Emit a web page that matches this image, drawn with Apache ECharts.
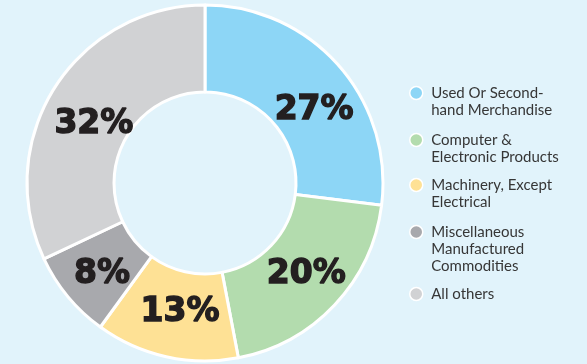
<!DOCTYPE html>
<html><head><meta charset="utf-8">
<script src="https://cdn.jsdelivr.net/npm/echarts@6/dist/echarts.min.js"></script>
<style>html,body{margin:0;padding:0;background:#e1f3fb;}#c{width:587px;height:364px;}</style>
</head><body><div id="c"></div>
<script>
const categories = ['Used Or Second-hand Merchandise','Computer & Electronic Products','Machinery, Except Electrical','Miscellaneous Manufactured Commodities','All others'];
const legendLabels = ['Used Or Second-\nhand Merchandise','Computer &\nElectronic Products','Machinery, Except\nElectrical','Miscellaneous\nManufactured\nCommodities','All others'];
const values = [27, 20, 13, 8, 32];
const colors = ['#8dd6f6','#b3dcae','#fee195','#a8a9ad','#d1d2d4'];
const legendIconY = [93, 140, 185, 232, 294];
const labelNudge = [[6, 18], [1, -3], [5, -5], [3, 4], [5, 15]];

const LH = 17;
const legends = categories.map((name, i) => {
  const lines = legendLabels[i].split('\n');
  const n = lines.length;
  const padded = Array(n - 1).fill(' ').concat(lines).join('\n');
  return {
    orient: 'vertical', left: 409, top: legendIconY[i] - (2*n-1)*LH/2, padding: 0,
    data: [name], icon: 'circle', itemWidth: 20, itemHeight: 13,
    itemStyle: {borderColor: '#ffffff', borderWidth: 1.5},
    formatter: () => padded,
    textStyle: {fontFamily: 'Lato', fontSize: 15, color: '#363636', lineHeight: LH},
    selectedMode: false
  };
});

const chart = echarts.init(document.getElementById('c'), null, {renderer: 'canvas'});
chart.setOption({
  backgroundColor: '#e1f3fb',
  animation: false,
  legend: legends,
  series: [{
    type: 'pie', center: [205, 183], radius: [91, 178], startAngle: 90, clockwise: true,
    data: categories.map((c, i) => ({name: c, value: values[i], itemStyle: {color: colors[i]}})),
    itemStyle: {borderColor: '#ffffff', borderWidth: 3},
    label: {position: 'inside', formatter: '{c}%', fontFamily: 'DejaVu Sans', fontWeight: 'bold', fontSize: 33,
      color: '#231f20', textBorderColor: '#231f20', textBorderWidth: 1.4},
    labelLayout: (p) => ({dx: labelNudge[p.dataIndex][0], dy: labelNudge[p.dataIndex][1]}),
    labelLine: {show: false}, emphasis: {disabled: true}
  }]
});
</script></body></html>
